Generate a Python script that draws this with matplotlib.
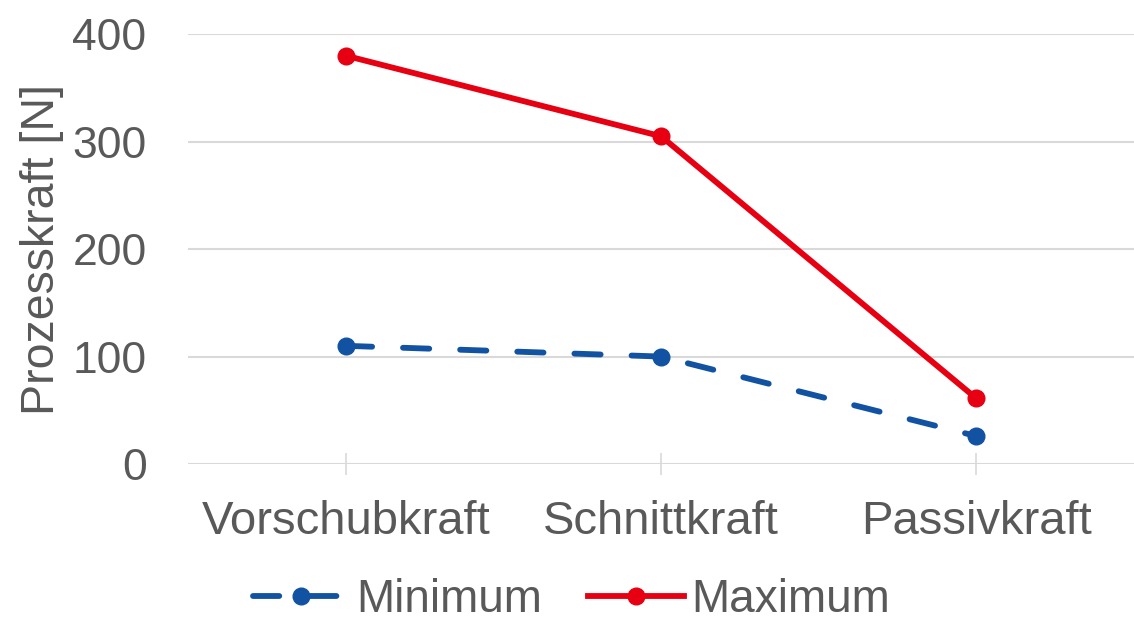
import matplotlib.pyplot as plt
import numpy as np

categories = ["Vorschubkraft", "Schnittkraft", "Passivkraft"]
minimum = [110, 100, 26]
maximum = [380, 305, 61]

plt.rcParams['font.family'] = ['Liberation Sans', 'DejaVu Sans']
grey = '#595959'

fig = plt.figure(figsize=(11.34, 6.22), dpi=100)
ax = fig.add_axes([0.166, 0.254, 0.834, 0.691])

x = np.arange(len(categories))
ax.plot(x, minimum, color='#1252a3', lw=4.2, ls=(0, (4.5, 5.3)),
	marker='o', ms=12, label='Minimum', dash_capstyle='round')
ax.plot(x, maximum, color='#e60012', lw=4.2,
	marker='o', ms=12, label='Maximum')

ax.set_xlim(-0.5, 2.5)
ax.set_ylim(0, 400)
ax.set_yticks([0, 100, 200, 300, 400])
ax.yaxis.grid(True, color='#d9d9d9', lw=1.5)
ax.set_axisbelow(True)
for s in ax.spines.values():
	s.set_visible(False)
ax.set_xticks(x)
ax.set_xticklabels(categories)
ax.tick_params(axis='y', length=0, labelsize=32, labelcolor=grey, pad=30)
ax.tick_params(axis='x', direction='inout', length=16, width=1.2, color='#d9d9d9',
	labelsize=34, labelcolor=grey, pad=18)
ax.set_ylabel("Prozesskraft [N]", fontsize=33.5, color=grey, labelpad=6)

fig.legend(loc='center', bbox_to_anchor=(0.504, 0.036), ncol=2,
	frameon=False, fontsize=33, labelcolor=grey, handlelength=2.1,
	handletextpad=0.15, columnspacing=1.0, borderpad=0)

fig.savefig("out.png", dpi=100)
